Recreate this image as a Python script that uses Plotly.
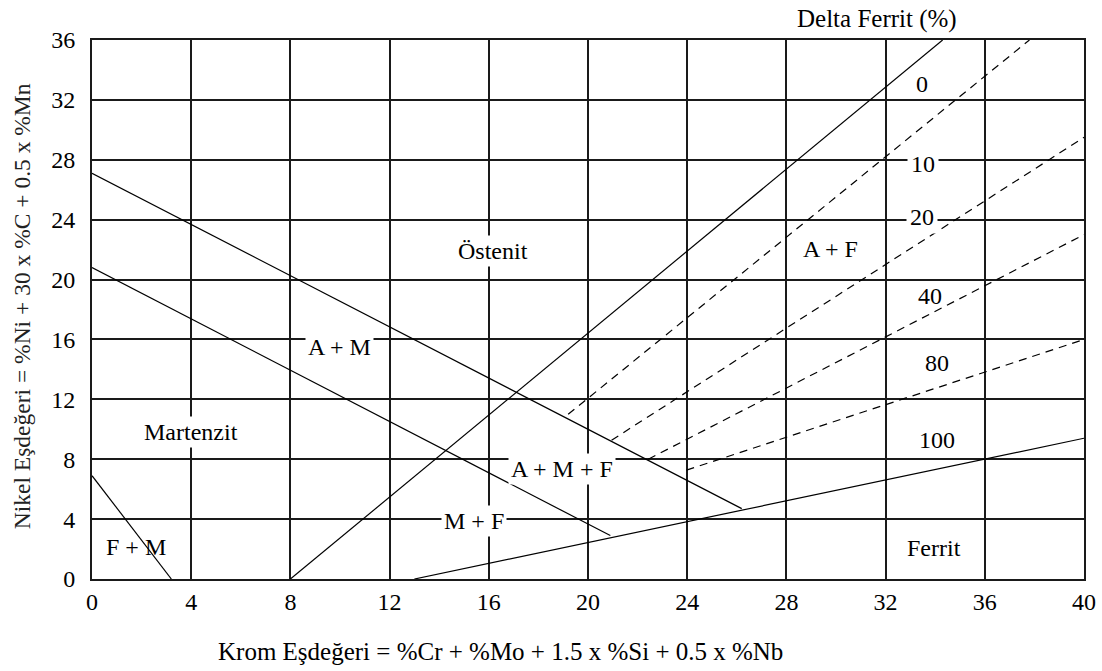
import plotly.graph_objects as go

# Axis ticks
x_ticks = [0, 4, 8, 12, 16, 20, 24, 28, 32, 36, 40]
y_ticks = [0, 4, 8, 12, 16, 20, 24, 28, 32, 36]

# Phase boundary lines (Krom eşdeğeri, Nikel eşdeğeri)
fm_x = [0, 3.2]
fm_y = [6.9, 0]
upper_m_x = [0, 26.2]
upper_m_y = [27.1, 4.7]
lower_m_x = [0, 20.9]
lower_m_y = [20.8, 2.9]
ferrit0_x = [8.0, 34.3]
ferrit0_y = [0, 36]
ferrit100_x = [13.0, 40]
ferrit100_y = [0, 9.4]

# Delta ferrite iso-lines (dashed)
ferrit10_x = [19.2, 37.8]
ferrit10_y = [11.0, 36]
ferrit20_x = [20.95, 40]
ferrit20_y = [9.27, 29.5]
ferrit40_x = [22.43, 40]
ferrit40_y = [8.0, 23.0]
ferrit80_x = [23.97, 40]
ferrit80_y = [7.27, 16.0]

# Region labels
region_text = ["Östenit", "A + M", "Martenzit", "F + M", "M + F", "A + M + F", "A + F", "Ferrit"]
region_x = [16.17, 9.96, 4.0, 1.76, 15.4, 18.94, 29.76, 33.96]
region_y = [21.93, 15.49, 9.82, 2.15, 3.89, 7.38, 22.05, 2.05]
region_bg = [True, True, True, False, True, True, False, False]

# Ferrite percentage labels
pct_text = ["0", "10", "20", "40", "80", "100"]
pct_x = [33.45, 33.49, 33.45, 33.79, 34.06, 34.07]
pct_y = [33.05, 27.7, 24.15, 18.87, 14.42, 9.27]
pct_bg = [False, True, True, False, False, False]

FONT = "Times New Roman, Liberation Serif, serif"

fig = go.Figure()

solid = [(fm_x, fm_y), (upper_m_x, upper_m_y), (lower_m_x, lower_m_y),
         (ferrit0_x, ferrit0_y), (ferrit100_x, ferrit100_y)]
for xs, ys in solid:
    fig.add_trace(go.Scatter(x=xs, y=ys, mode="lines",
                             line=dict(color="black", width=1.2),
                             showlegend=False, hoverinfo="skip"))

dashed = [(ferrit10_x, ferrit10_y), (ferrit20_x, ferrit20_y),
          (ferrit40_x, ferrit40_y), (ferrit80_x, ferrit80_y)]
for xs, ys in dashed:
    fig.add_trace(go.Scatter(x=xs, y=ys, mode="lines",
                             line=dict(color="black", width=1.2, dash="8px,6px"),
                             showlegend=False, hoverinfo="skip"))

for t, x, y, bg in zip(region_text, region_x, region_y, region_bg):
    fig.add_annotation(x=x, y=y, text=t, showarrow=False,
                       xanchor="center", yanchor="middle",
                       font=dict(family=FONT, size=24, color="black"),
                       bgcolor="white" if bg else "rgba(0,0,0,0)", borderpad=2)

for t, x, y, bg in zip(pct_text, pct_x, pct_y, pct_bg):
    fig.add_annotation(x=x, y=y, text=t, showarrow=False,
                       xanchor="center", yanchor="middle",
                       font=dict(family=FONT, size=24, color="black"),
                       bgcolor="white" if bg else "rgba(0,0,0,0)", borderpad=3)

W, H = 1102, 671
L, T = 92, 39.5
PW, PH = 992, 539.5

def px(xpage):
    return (xpage - L) / PW

def py(ypage):
    return 1 - (ypage - T) / PH

fig.add_annotation(x=px(877), y=py(18), xref="paper", yref="paper",
                   xanchor="center", yanchor="middle",
                   text="Delta Ferrit (%)", showarrow=False,
                   font=dict(family=FONT, size=25, color="black"))

fig.add_annotation(x=px(500), y=py(652), xref="paper", yref="paper",
                   xanchor="center", yanchor="middle",
                   text="Krom Eşdeğeri = %Cr + %Mo + 1.5 x %Si + 0.5 x %Nb",
                   showarrow=False,
                   font=dict(family=FONT, size=25, color="black"))

fig.add_annotation(x=px(22), y=py(306), xref="paper", yref="paper",
                   xanchor="center", yanchor="middle",
                   text="Nikel Eşdeğeri = %Ni + 30 x %C + 0.5 x %Mn",
                   showarrow=False, textangle=-90,
                   font=dict(family=FONT, size=23.5, color="#222"))

axis_common = dict(showgrid=True, gridcolor="#1a1a1a", gridwidth=1.6,
                   showline=True, linecolor="#1a1a1a", linewidth=2, mirror=True,
                   zeroline=False, ticks="", automargin=False,
                   ticklabeloverflow="allow",
                   tickfont=dict(family=FONT, size=24, color="black"))

fig.update_xaxes(range=[0, 40], tickvals=x_ticks, ticktext=[str(v) for v in x_ticks],
                 ticklabelstandoff=0, **axis_common)
fig.update_yaxes(range=[0, 36], tickvals=y_ticks, ticktext=[str(v) for v in y_ticks],
                 ticklabelstandoff=10, **axis_common)

fig.update_layout(width=W, height=H,
                  margin=dict(l=L, r=W - L - PW, t=T, b=H - T - PH, pad=0),
                  plot_bgcolor="white", paper_bgcolor="white",
                  font=dict(family=FONT))

# remove the default 8px page margin so the figure sits at the window's corner
fig.write_html("out.html", config={"displayModeBar": False},
               post_script="document.body.style.margin='0px';")
